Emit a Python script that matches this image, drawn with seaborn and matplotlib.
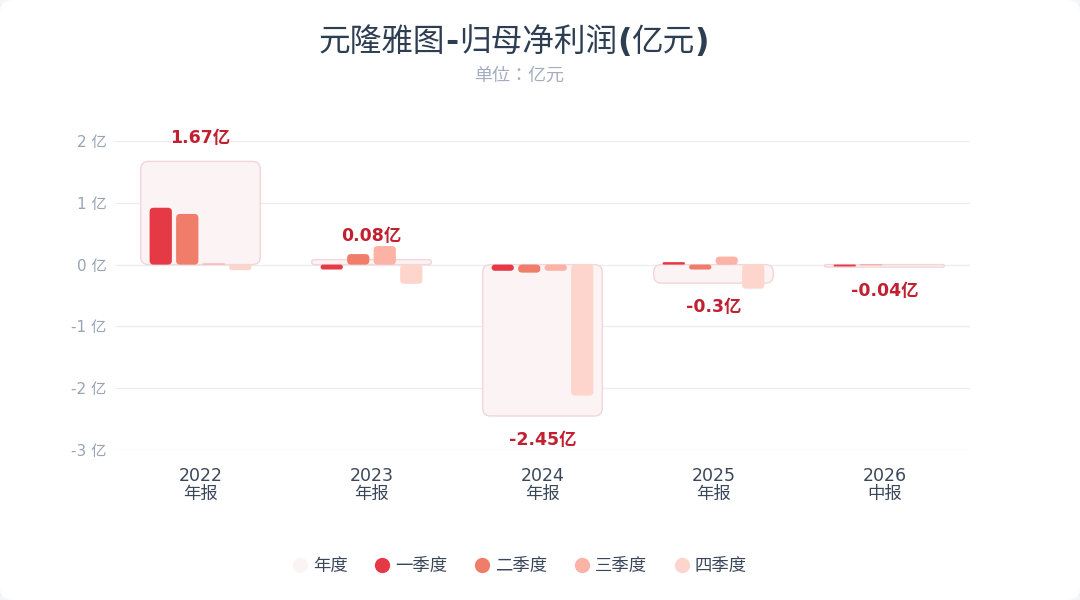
import numpy as np
import pandas as pd
import matplotlib
matplotlib.use('Agg')
import matplotlib.pyplot as plt
from matplotlib.patches import FancyBboxPatch
from matplotlib.lines import Line2D
import seaborn as sns

# data (亿元)
periods = ['2022\n年报', '2023\n年报', '2024\n年报', '2025\n年报', '2026\n中报']
annual = [1.67, 0.08, -2.45, -0.30, -0.04]
quarters = ['一季度', '二季度', '三季度', '四季度']
q1 = [0.92, -0.08, -0.10, 0.04, -0.03]
q2 = [0.82, 0.17, -0.13, -0.08, -0.01]
q3 = [0.02, 0.30, -0.10, 0.13, np.nan]
q4 = [-0.09, -0.31, -2.12, -0.39, np.nan]
yticks = [2, 1, 0, -1, -2, -3]

q_colors = ['#e63946', '#f07c6a', '#fcb2a4', '#fdd5cc']
annual_fill = '#fbf3f4'
annual_edge = '#f3d5da'
label_color = '#c0202f'

sns.set_theme(style='white')
plt.rcParams['font.family'] = ['DejaVu Sans', 'Noto Sans CJK SC']
plt.rcParams['axes.unicode_minus'] = False

fig = plt.figure(figsize=(10.8, 6), dpi=100)
fig.patch.set_facecolor('#f3f4f6')
card = FancyBboxPatch((0, 0), 1, 1, boxstyle='round,pad=0,rounding_size=0.012',
                      transform=fig.transFigure, facecolor='white', edgecolor='none',
                      mutation_aspect=1.8, zorder=-10)
fig.patches.append(card)

ax = fig.add_axes([115 / 1080, 1 - 450 / 600, 855 / 1080, 309 / 600])
ax.set_facecolor('none')

df_annual = pd.DataFrame({'period': periods, 'value': annual})
df_q = pd.DataFrame({'period': periods, '一季度': q1, '二季度': q2, '三季度': q3, '四季度': q4})
df_q = df_q.melt(id_vars='period', var_name='quarter', value_name='value').dropna()

# annual background box
sns.barplot(data=df_annual, x='period', y='value', order=periods, width=0.7,
            color=annual_fill, edgecolor=annual_edge, linewidth=1.0, ax=ax,
            saturation=1, errorbar=None, zorder=1)
n_annual = len(ax.patches)

# quarterly bars
sns.barplot(data=df_q, x='period', y='value', hue='quarter', order=periods,
            hue_order=quarters, palette=q_colors, width=0.62, gap=0.16,
            saturation=1, errorbar=None, ax=ax, legend=False, zorder=2)

# round the corners of every bar
x_px = 171.0
y_px = 61.8
aspect = x_px / y_px
old = list(ax.patches)
for i, p in enumerate(old):
    x, y = p.get_x(), p.get_y()
    w, h = p.get_width(), p.get_height()
    if np.isnan(h) or h == 0:
        p.remove()
        continue
    y0, hh = (y, h) if h > 0 else (y + h, -h)
    is_annual = i < n_annual
    r = (8 if is_annual else 4) / x_px
    r = min(r, w / 2, hh / aspect / 2)
    fb = FancyBboxPatch((x, y0), w, hh, boxstyle=f'round,pad=0,rounding_size={r}',
                        mutation_aspect=aspect, facecolor=p.get_facecolor(),
                        edgecolor=p.get_edgecolor() if is_annual else 'none',
                        linewidth=1.0 if is_annual else 0, zorder=1 if is_annual else 2)
    p.remove()
    ax.add_patch(fb)

# annual labels
for i, v in enumerate(annual):
    off = 17 if v >= 0 else -17
    ax.annotate(f'{v:g}亿', (i, v), xytext=(0, off), textcoords='offset points',
                ha='center', va='center', fontsize=12.5, fontweight='bold',
                color=label_color, zorder=5)

ax.set_xlim(-0.5, len(periods) - 0.5)
ax.set_ylim(-3, 2)
ax.set_yticks(yticks)
ax.set_yticklabels([f'{t} 亿' for t in yticks], color='#97a3b6', fontsize=11)
ax.set_xticks(range(len(periods)))
ax.set_xticklabels(periods, color='#3a475a', fontsize=12.5, linespacing=1.0)
ax.tick_params(axis='x', length=0, pad=12)
ax.tick_params(axis='y', length=0, pad=6)
ax.set_xlabel('')
ax.set_ylabel('')
ax.grid(axis='y', color='#ebedf1', linewidth=0.9, zorder=0)
ax.set_axisbelow(True)
for s in ax.spines.values():
    s.set_visible(False)

# title: CJK regular, punctuation bold (as in the reference)
title_parts = [('元隆雅图', 'normal'), ('-', 'bold'), ('归母净利润', 'normal'),
               ('(', 'bold'), ('亿元', 'normal'), (')', 'bold')]
renderer = fig.canvas.get_renderer()
texts = []
for s, wt in title_parts:
    t = fig.text(0, 1 - 42 / 600, s, ha='left', va='center', fontsize=22.8,
                 color='#2e3e52', fontweight=wt)
    texts.append(t)
widths = [t.get_window_extent(renderer).width for t in texts]
x0 = 514 - sum(widths) / 2
for t, w in zip(texts, widths):
    t.set_x(x0 / 1080)
    x0 += w

fig.text(519 / 1080, 1 - 76 / 600, '单位：亿元', ha='center', va='center',
         fontsize=13, color='#a3adbf', family=['DejaVu Sans', 'Noto Sans CJK JP'])

handles = [Line2D([], [], marker='o', linestyle='none', markersize=11,
                  markerfacecolor=annual_fill, markeredgecolor='none', label='年度')]
for q, c in zip(quarters, q_colors):
    handles.append(Line2D([], [], marker='o', linestyle='none', markersize=11,
                          markerfacecolor=c, markeredgecolor='none', label=q))
fig.legend(handles=handles, loc='center', bbox_to_anchor=(520 / 1080, 1 - 566 / 600),
           ncol=5, frameon=False, fontsize=12.5, handlelength=0.8, handletextpad=0.35,
           columnspacing=1.6, labelcolor='#3a475a')

fig.savefig('out.png', dpi=100, facecolor=fig.get_facecolor())
